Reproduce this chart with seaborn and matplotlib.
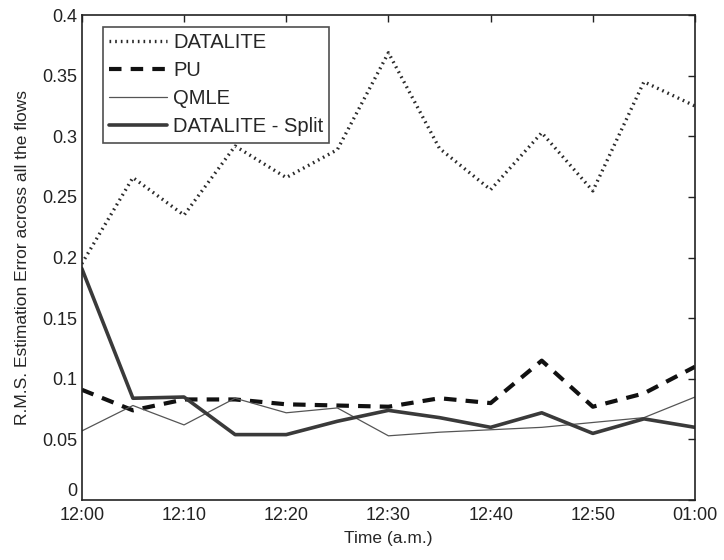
import matplotlib
matplotlib.use("Agg")
import matplotlib.pyplot as plt
import seaborn as sns
import pandas as pd

minutes = [0, 5, 10, 15, 20, 25, 30, 35, 40, 45, 50, 55, 60]
tick_minutes = [0, 10, 20, 30, 40, 50, 60]
tick_labels = ["12:00", "12:10", "12:20", "12:30", "12:40", "12:50", "01:00"]

datalite = [0.195, 0.266, 0.235, 0.292, 0.266, 0.289, 0.369, 0.290, 0.256, 0.303, 0.255, 0.345, 0.325]
pu = [0.091, 0.074, 0.083, 0.083, 0.079, 0.078, 0.077, 0.084, 0.080, 0.115, 0.077, 0.088, 0.110]
qmle = [0.057, 0.078, 0.062, 0.084, 0.072, 0.076, 0.053, 0.056, 0.058, 0.060, 0.064, 0.068, 0.085]
split = [0.191, 0.084, 0.085, 0.054, 0.054, 0.065, 0.074, 0.068, 0.060, 0.072, 0.055, 0.067, 0.060]

series = {
    "DATALITE": datalite,
    "PU": pu,
    "QMLE": qmle,
    "DATALITE - Split": split,
}

sns.set_style("white")
plt.rcParams['font.family'] = ['Liberation Sans', 'DejaVu Sans']

fig = plt.figure(figsize=(7.24, 5.6), dpi=100)
ax = fig.add_axes([0.113, 0.107, 0.847, 0.866])

styles = {
    "DATALITE": dict(color="#2a2a2a", linewidth=2.4, linestyle=(0, (0.5, 1.2))),
    "PU": dict(color="#111111", linewidth=3.0, linestyle=(0, (3.0, 2.2))),
    "QMLE": dict(color="#555555", linewidth=0.9, linestyle="-"),
    "DATALITE - Split": dict(color="#3a3a3a", linewidth=2.6, linestyle="-"),
}

for name, vals in series.items():
    df = pd.DataFrame({"Time": minutes, "Error": vals})
    sns.lineplot(data=df, x="Time", y="Error", ax=ax, label=name, **styles[name])

ax.set_xlim(0, 60)
ax.set_ylim(0, 0.4)
ax.set_xticks(tick_minutes)
ax.set_xticklabels(tick_labels)
ax.set_yticks([0, 0.05, 0.1, 0.15, 0.2, 0.25, 0.3, 0.35, 0.4])
ax.set_yticklabels(["0", "0.05", "0.1", "0.15", "0.2", "0.25", "0.3", "0.35", "0.4"])
ax.tick_params(direction="in", top=True, right=True, length=5, width=1, labelsize=13, colors="#222222")
ax.tick_params(axis="x", pad=5)
ax.tick_params(axis="y", pad=3)
ax.get_yticklabels()[0].set_verticalalignment("bottom")
for s in ax.spines.values():
    s.set_visible(True)
    s.set_color("#222222")
    s.set_linewidth(1.2)
ax.set_xlabel("Time (a.m.)", fontsize=12.5, labelpad=5)
ax.set_ylabel("R.M.S. Estimation Error across all the flows", fontsize=12.5, labelpad=9)

leg = ax.legend(loc="upper left", bbox_to_anchor=(0.034, 0.975), fontsize=14.5, frameon=True,
                fancybox=False, edgecolor="#222222", handlelength=2.9, handletextpad=0.3,
                borderpad=0.3, labelspacing=0.45, borderaxespad=0)
leg.get_frame().set_linewidth(1.2)

fig.savefig("out.png", dpi=100, facecolor="white")
